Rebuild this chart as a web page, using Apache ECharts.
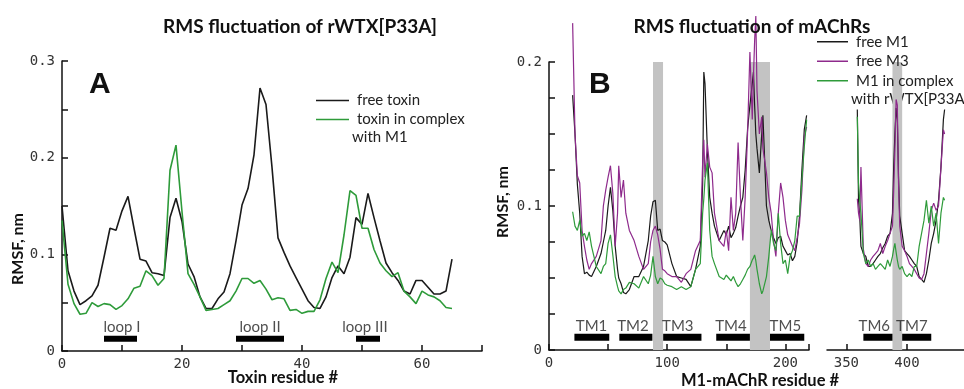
<!DOCTYPE html>
<html>
<head>
<meta charset="utf-8">
<script src="https://cdn.jsdelivr.net/npm/echarts@6/dist/echarts.min.js"></script>
<style>
html, body { margin: 0; padding: 0; background: #fff; }
#chart { width: 964px; height: 389px; }
</style>
</head>
<body>
<div id="chart"></div>
<script>
// ---- panel A: toxin ----
var toxinResidues = [0, 1, 2, 3, 4, 5, 6, 7, 8, 9, 10, 11, 12, 13, 14, 15, 16, 17, 18, 19,
    20, 21, 22, 23, 24, 25, 26, 27, 28, 29, 30, 31, 32, 33, 34, 35, 36, 37, 38, 39,
    40, 41, 42, 43, 44, 45, 46, 47, 48, 49, 50, 51, 52, 53, 54, 55, 56, 57, 58, 59,
    60, 61, 62, 63, 64, 65];
var freeToxin = [0.150, 0.083, 0.062, 0.048, 0.052, 0.057, 0.068, 0.097, 0.127, 0.125,
    0.145, 0.160, 0.127, 0.095, 0.093, 0.081, 0.080, 0.078, 0.138, 0.158,
    0.134, 0.090, 0.077, 0.056, 0.044, 0.044, 0.054, 0.061, 0.080, 0.114,
    0.151, 0.168, 0.203, 0.272, 0.255, 0.190, 0.117, 0.102, 0.088, 0.076,
    0.064, 0.052, 0.045, 0.044, 0.056, 0.076, 0.088, 0.080, 0.097, 0.138,
    0.131, 0.163, 0.138, 0.114, 0.091, 0.081, 0.073, 0.062, 0.059, 0.073,
    0.073, 0.066, 0.059, 0.059, 0.062, 0.095];
var toxinComplex = [0.135, 0.069, 0.049, 0.038, 0.039, 0.050, 0.046, 0.049, 0.048, 0.043,
    0.047, 0.054, 0.065, 0.067, 0.083, 0.078, 0.068, 0.075, 0.187, 0.213,
    0.144, 0.080, 0.069, 0.056, 0.042, 0.043, 0.044, 0.048, 0.052, 0.062,
    0.075, 0.075, 0.070, 0.073, 0.064, 0.053, 0.055, 0.054, 0.042, 0.043,
    0.039, 0.041, 0.041, 0.053, 0.075, 0.092, 0.081, 0.120, 0.166, 0.161,
    0.127, 0.127, 0.105, 0.091, 0.083, 0.077, 0.081, 0.062, 0.056, 0.049,
    0.062, 0.058, 0.056, 0.052, 0.045, 0.044];
var loopNames = ['loop I', 'loop II', 'loop III'];
var loopStart = [7, 29, 49];
var loopEnd = [12.5, 37, 53];
var loopLabelX = [10, 33, 50.5];

// ---- panel B: receptors, first segment ----
var resB1 = [20, 22, 24, 26, 28, 30, 32, 34, 36, 40, 44, 46, 48, 50, 52, 54, 56, 58, 59, 61,
    63, 65, 68, 72, 76, 80, 84, 86, 88, 90, 92, 94, 96, 98, 100, 104, 108, 112, 116, 120,
    124, 128, 130, 131, 132, 134, 136, 138, 140, 144, 148, 150, 152, 154, 156, 158, 160, 162, 164, 166,
    168, 170, 172, 173, 174, 175, 176, 178, 180, 181, 184, 186, 188, 190, 192, 194, 196, 198, 200, 202,
    204, 206, 208, 210, 212, 214, 216, 218];
var freeM1a = [0.177, 0.150, 0.115, 0.095, 0.065, 0.053, 0.054, 0.052, 0.051, 0.058,
    0.067, 0.075, 0.083, 0.100, 0.113, 0.097, 0.072, 0.056, 0.050, 0.046,
    0.040, 0.039, 0.042, 0.051, 0.051, 0.058, 0.076, 0.093, 0.103, 0.104,
    0.083, 0.084, 0.076, 0.075, 0.073, 0.060, 0.051, 0.050, 0.049, 0.044,
    0.056, 0.072, 0.115, 0.193, 0.185, 0.139, 0.106, 0.095, 0.086, 0.076,
    0.083, 0.080, 0.086, 0.078, 0.081, 0.085, 0.093, 0.100, 0.106, 0.125,
    0.153, 0.170, 0.185, 0.193, 0.170, 0.150, 0.140, 0.123, 0.150, 0.163,
    0.100, 0.090, 0.083, 0.078, 0.074, 0.078, 0.079, 0.072, 0.069, 0.066,
    0.067, 0.062, 0.065, 0.075, 0.093, 0.125, 0.153, 0.163];
var freeM3a = [0.227, 0.150, 0.121, 0.116, 0.083, 0.072, 0.0625, 0.056, 0.060, 0.065,
    0.076, 0.100, 0.111, 0.120, 0.128, 0.109, 0.072, 0.095, 0.128, 0.106,
    0.118, 0.095, 0.083, 0.076, 0.065, 0.056, 0.060, 0.075, 0.083, 0.086,
    0.080, 0.070, 0.056, 0.055, 0.053, 0.051, 0.051, 0.047, 0.053, 0.056,
    0.069, 0.076, 0.130, 0.146, 0.120, 0.143, 0.127, 0.123, 0.095, 0.076,
    0.072, 0.083, 0.069, 0.106, 0.083, 0.095, 0.144, 0.106, 0.076, 0.106,
    0.150, 0.207, 0.160, 0.190, 0.215, 0.232, 0.180, 0.150, 0.162, 0.140,
    0.123, 0.106, 0.095, 0.076, 0.065, 0.095, 0.116, 0.106, 0.090, 0.080,
    0.076, 0.072, 0.069, 0.078, 0.088, 0.111, 0.148, 0.155];
var complexM1a = [0.096, 0.086, 0.083, 0.090, 0.079, 0.081, 0.076, 0.082, 0.072, 0.058,
    0.053, 0.058, 0.060, 0.074, 0.080, 0.066, 0.051, 0.044, 0.041, 0.039,
    0.042, 0.043, 0.047, 0.046, 0.043, 0.051, 0.046, 0.052, 0.065, 0.051,
    0.046, 0.050, 0.049, 0.046, 0.045, 0.044, 0.042, 0.044, 0.042, 0.044,
    0.056, 0.060, 0.095, 0.105, 0.118, 0.130, 0.083, 0.065, 0.060, 0.051,
    0.049, 0.052, 0.050, 0.048, 0.051, 0.047, 0.044, 0.046, 0.049, 0.052,
    0.056, 0.058, 0.0625, 0.064, 0.066, 0.062, 0.056, 0.046, 0.039, 0.041,
    0.051, 0.065, 0.083, 0.074, 0.069, 0.095, 0.074, 0.060, 0.0625, 0.053,
    0.065, 0.069, 0.076, 0.093, 0.093, 0.118, 0.141, 0.160];

// ---- panel B: second segment ----
var resB2 = [359, 360, 361, 362, 364, 366, 368, 370, 372, 374, 376, 378, 380, 382, 384, 386, 388, 389, 390, 391,
    392, 393, 394, 396, 398, 400, 402, 404, 406, 408, 410, 412, 414, 416, 418, 420, 422, 424, 426, 428,
    430, 431];
var freeM1b = [0.167, 0.104, 0.093, 0.072, 0.067, 0.065, 0.058, 0.058, 0.060, 0.0625,
    0.065, 0.067, 0.071, 0.074, 0.079, 0.081, 0.095, 0.127, 0.150, 0.168,
    0.160, 0.120, 0.093, 0.081, 0.069, 0.067, 0.065, 0.0625, 0.060, 0.058,
    0.051, 0.049, 0.047, 0.053, 0.0625, 0.074, 0.081, 0.090, 0.104, 0.127,
    0.160, 0.167];
var freeM3b = [0.105, 0.095, 0.090, 0.127, 0.070, 0.060, 0.058, 0.0625, 0.065, 0.067,
    0.069, 0.074, 0.067, 0.072, 0.076, 0.081, 0.086, 0.110, 0.139, 0.174,
    0.170, 0.116, 0.086, 0.072, 0.069, 0.065, 0.060, 0.058, 0.056, 0.053,
    0.050, 0.049, 0.053, 0.067, 0.081, 0.097, 0.102, 0.097, 0.100, 0.127,
    0.153, 0.150];
var complexM1b = [0.162, 0.116, 0.104, 0.095, 0.067, 0.060, 0.0625, 0.058, 0.060, 0.056,
    0.058, 0.060, 0.058, 0.056, 0.0625, 0.058, 0.065, 0.070, 0.074, 0.068,
    0.0625, 0.058, 0.056, 0.058, 0.053, 0.051, 0.053, 0.051, 0.058, 0.058,
    0.072, 0.081, 0.090, 0.104, 0.088, 0.100, 0.086, 0.095, 0.074, 0.095,
    0.106, 0.104];

var tmNames = ['TM1', 'TM2', 'TM3', 'TM4', 'TM5', 'TM6', 'TM7'];
var tmStart = [21.5, 59.5, 96.6, 141.5, 187, 364, 396];
var tmEnd = [51, 87.5, 129, 170, 216, 388, 420];
var tmLabelX = [36, 71, 109, 154, 200, 373, 404];
var bandStart = [88, 170, 388];
var bandEnd = [96.5, 187, 396];

var black = '#1a1a1a';
var purple = '#8e2a8c';
var green = '#2e9b3a';
var mono = 'DejaVu Sans Mono';
var sans = 'Lato';

function pairs(xs, ys) {
    return xs.map(function (x, i) { return [x, ys[i]]; });
}

// horizontal bars as one broken line
function barLine(starts, ends, level, keep) {
    var out = [];
    for (var i = 0; i < starts.length; i++) {
        if (!keep(starts[i])) continue;
        out.push([starts[i], level]);
        out.push([ends[i], level]);
        out.push([ends[i], '-']);
    }
    return out;
}

function labelPoints(names, xs, level, keep) {
    var out = [];
    for (var i = 0; i < names.length; i++) {
        if (!keep(xs[i])) continue;
        out.push({ name: names[i], value: [xs[i], level] });
    }
    return out;
}

function bands(keep) {
    var out = [];
    for (var i = 0; i < bandStart.length; i++) {
        if (!keep(bandStart[i])) continue;
        out.push([{ xAxis: bandStart[i], yAxis: 0 }, { xAxis: bandEnd[i], yAxis: 0.2 }]);
    }
    return out;
}

var firstSeg = function (x) { return x < 300; };
var secondSeg = function (x) { return x >= 300; };

function tenths(v) {
    var t = v * 10;
    if (Math.abs(t - Math.round(t)) < 1e-6) return String(Math.round(t) / 10);
    return '';
}

var axisLineStyle = { color: '#111', width: 1.5 };

function yAxisFor(grid, max, step, show) {
    return {
        type: 'value', gridIndex: grid, min: 0, max: max, interval: step, show: show,
        axisLine: { show: true, lineStyle: axisLineStyle },
        axisTick: { show: true, inside: true, length: 6, lineStyle: axisLineStyle },
        axisLabel: { formatter: tenths, fontFamily: mono, fontSize: 14, color: '#333', margin: 7 },
        splitLine: { show: false }
    };
}

function lineSeries(name, x, y, color, width, xi, z) {
    return {
        name: name, type: 'line', xAxisIndex: xi, yAxisIndex: xi,
        data: pairs(x, y), symbol: 'none', clip: false, z: z,
        lineStyle: { color: color, width: width }, itemStyle: { color: color }
    };
}

function barSeries(xi, level, width, keep, areas) {
    return {
        type: 'line', xAxisIndex: xi, yAxisIndex: xi, silent: true, z: 1,
        data: xi === 0 ? barLine(loopStart, loopEnd, level, keep) : barLine(tmStart, tmEnd, level, keep),
        symbol: 'none', connectNulls: false,
        lineStyle: { color: '#000', width: width, cap: 'butt' },
        markArea: areas ? { silent: true, itemStyle: { color: '#c3c3c3' }, data: areas } : undefined
    };
}

function labelSeries(xi, names, xs, level, keep) {
    return {
        type: 'scatter', xAxisIndex: xi, yAxisIndex: xi, silent: true, z: 2,
        symbolSize: 0, data: labelPoints(names, xs, level, keep),
        label: {
            show: true, position: 'top', distance: 4, formatter: function (p) { return p.name; },
            fontFamily: sans, fontSize: 15, color: '#222'
        }
    };
}

var chart = echarts.init(document.getElementById('chart'));
chart.setOption({
    animation: false,
    backgroundColor: '#fff',
    title: [
        { text: 'RMS fluctuation of rWTX[P33A]', left: 295, top: 12, textAlign: 'center',
          textStyle: { fontFamily: sans, fontWeight: 'bold', fontSize: 19, color: '#111' } },
        { text: 'RMS fluctuation of mAChRs', left: 747, top: 12, textAlign: 'center',
          textStyle: { fontFamily: sans, fontWeight: 'bold', fontSize: 19, color: '#111' } }
    ],
    legend: [
        { data: ['free toxin', 'toxin in complex'], orient: 'vertical', left: 311, top: 86,
          icon: 'rect', itemWidth: 33, itemHeight: 1.5, itemGap: 0,
          textStyle: { fontFamily: sans, fontSize: 15, color: '#222', lineHeight: 19, padding: [0, 0, 0, 3] } },
        { data: ['free M1', 'free M3', 'M1 in complex'], orient: 'vertical', left: 812, top: 27,
          icon: 'rect', itemWidth: 31, itemHeight: 1.5, itemGap: 0,
          textStyle: { fontFamily: sans, fontSize: 15, color: '#222', lineHeight: 19.5, padding: [0, 0, 0, 3] } }
    ],
    grid: [
        { left: 62, top: 61, width: 420, height: 290 },
        { left: 549, top: 62, width: 260, height: 288 },
        { left: 827, top: 62, width: 137, height: 288 }
    ],
    xAxis: [
        { type: 'value', gridIndex: 0, min: 0, max: 70, interval: 10,
          axisLine: { lineStyle: axisLineStyle },
          axisTick: { inside: true, length: 6, lineStyle: axisLineStyle },
          axisLabel: { formatter: function (v) { return v % 20 === 0 ? String(v) : ''; },
                       fontFamily: mono, fontSize: 14, color: '#333', margin: 6 },
          splitLine: { show: false } },
        { type: 'value', gridIndex: 1, min: 0, max: 220, interval: 50,
          axisLine: { lineStyle: axisLineStyle },
          axisTick: { inside: true, length: 6, lineStyle: axisLineStyle },
          axisLabel: { formatter: function (v) { return v % 100 === 0 ? String(v) : ''; },
                       fontFamily: mono, fontSize: 14, color: '#333', margin: 6 },
          splitLine: { show: false } },
        { type: 'value', gridIndex: 2, min: 334, max: 447,
          axisLine: { lineStyle: axisLineStyle },
          axisTick: { inside: true, length: 6, lineStyle: axisLineStyle, customValues: [350, 400] },
          axisLabel: { customValues: [350, 400], fontFamily: mono, fontSize: 14, color: '#333', margin: 6 },
          splitLine: { show: false } }
    ],
    yAxis: [
        yAxisFor(0, 0.3, 0.05, true),
        yAxisFor(1, 0.2, 0.025, true),
        yAxisFor(2, 0.2, 0.025, false)
    ],
    graphic: [
        { type: 'text', left: 89, top: 70, style: { text: 'A', font: 'bold 30px "Liberation Sans"', fill: '#111' } },
        { type: 'text', left: 589, top: 70, style: { text: 'B', font: 'bold 30px "Liberation Sans"', fill: '#111' } },
        { type: 'text', x: 352, y: 137, style: { text: 'with M1', font: '15px Lato', fill: '#222', verticalAlign: 'middle' } },
        { type: 'text', x: 851, y: 99, style: { text: 'with rWTX[P33A]', font: '15px Lato', fill: '#222', verticalAlign: 'middle' } },
        { type: 'text', x: 18, y: 249, rotation: Math.PI / 2,
          style: { text: 'RMSF, nm', font: 'bold 16px Lato', fill: '#111', align: 'center', verticalAlign: 'middle' } },
        { type: 'text', x: 503, y: 202, rotation: Math.PI / 2,
          style: { text: 'RMSF, nm', font: 'bold 16px Lato', fill: '#111', align: 'center', verticalAlign: 'middle' } },
        { type: 'text', x: 283, y: 378,
          style: { text: 'Toxin residue #', font: 'bold 16.5px Lato', fill: '#111', align: 'center', verticalAlign: 'middle' } },
        { type: 'text', x: 760, y: 381,
          style: { text: 'M1-mAChR residue #', font: 'bold 16.5px Lato', fill: '#111', align: 'center', verticalAlign: 'middle' } }
    ],
    series: [
        lineSeries('free toxin', toxinResidues, freeToxin, black, 1.6, 0, 3),
        lineSeries('toxin in complex', toxinResidues, toxinComplex, green, 1.6, 0, 3),
        barSeries(0, 0.0127, 6, firstSeg, null),
        labelSeries(0, loopNames, loopLabelX, 0.0127, firstSeg),

        lineSeries('free M1', resB1, freeM1a, black, 1.2, 1, 3),
        lineSeries('free M3', resB1, freeM3a, purple, 1.2, 1, 3),
        lineSeries('M1 in complex', resB1, complexM1a, green, 1.2, 1, 3),
        barSeries(1, 0.0088, 7, firstSeg, bands(firstSeg)),
        labelSeries(1, tmNames, tmLabelX, 0.0088, firstSeg),

        lineSeries('free M1', resB2, freeM1b, black, 1.2, 2, 3),
        lineSeries('free M3', resB2, freeM3b, purple, 1.2, 2, 3),
        lineSeries('M1 in complex', resB2, complexM1b, green, 1.2, 2, 3),
        barSeries(2, 0.0088, 7, secondSeg, bands(secondSeg)),
        labelSeries(2, tmNames, tmLabelX, 0.0088, secondSeg)
    ]
});
</script>
</body>
</html>
